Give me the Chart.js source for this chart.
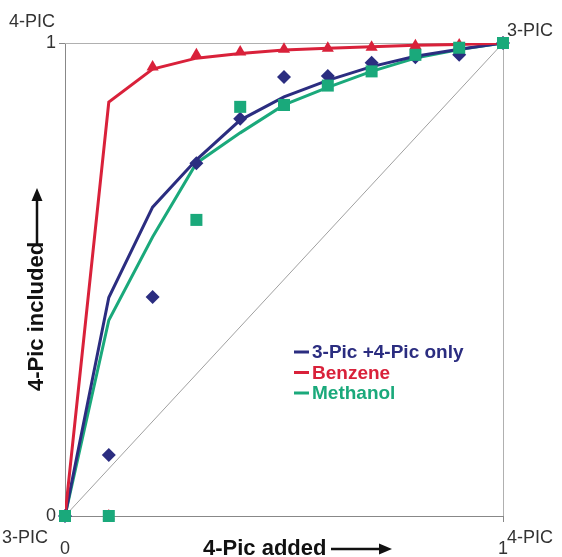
<!DOCTYPE html>
<html>
<head>
<meta charset="utf-8">
<script src="https://cdn.jsdelivr.net/npm/chart.js@4"></script>
<style>
  html, body { margin: 0; padding: 0; background: #fff; }
  #wrap { width: 562px; height: 557px; position: relative; }
</style>
</head>
<body>
<div id="wrap"><canvas id="picChart"></canvas></div>
<script>
// mole fraction of 4-Pic added (x) and included (y)
const xVals = [0, 0.1, 0.2, 0.3, 0.4, 0.5, 0.6, 0.7, 0.8, 0.9, 1];

// fitted curves
const onlyFit     = [0, 0.462, 0.653, 0.753, 0.837, 0.886, 0.921, 0.950, 0.972, 0.987, 1];
const benzeneFit  = [0, 0.875, 0.945, 0.968, 0.978, 0.985, 0.989, 0.992, 0.995, 0.997, 1];
const methanolFit = [0, 0.414, 0.590, 0.746, 0.810, 0.869, 0.906, 0.940, 0.968, 0.986, 1];

// measured points
const onlyObs     = [0, 0.129, 0.463, 0.746, 0.840, 0.928, 0.930, 0.958, 0.970, 0.975, 1];
const benzeneObs  = [0, 0, 0.949, 0.975, 0.981, 0.987, 0.989, 0.991, 0.994, 0.996, 1];
const methanolObs = [0, 0, null, 0.626, 0.865, 0.869, 0.910, 0.940, 0.975, 0.990, 1];

const yTicks = [0, 1];

const blue = '#2b2d80';
const red = '#d9213a';
const green = '#1aa97b';
const FONT = '"Liberation Sans", Arial, sans-serif';

const pts = arr => xVals.map((x, i) => ({ x: x, y: arr[i] }));

function arrow(ctx, x0, y0, x1, y1) {
  // straight arrow along x (rotated by caller when needed)
  ctx.beginPath();
  ctx.moveTo(x0, y0);
  ctx.lineTo(x1 - 10, y1);
  ctx.stroke();
  ctx.beginPath();
  ctx.moveTo(x1, y1);
  ctx.lineTo(x1 - 13, y1 - 5.5);
  ctx.lineTo(x1 - 13, y1 + 5.5);
  ctx.closePath();
  ctx.fill();
}

// frame, corner labels, axis titles with arrows, legend
const decor = {
  id: 'decor',
  beforeDatasetsDraw(chart) {
    const { ctx, chartArea: a } = chart;
    ctx.save();
    ctx.strokeStyle = '#b0b0b0';
    ctx.lineWidth = 1;
    ctx.beginPath();
    ctx.moveTo(a.left, a.top + 0.5);
    ctx.lineTo(a.right + 0.5, a.top + 0.5);
    ctx.lineTo(a.right + 0.5, a.bottom);
    ctx.stroke();
    ctx.restore();
  },
  afterDraw(chart) {
    const { ctx } = chart;
    ctx.save();
    ctx.fillStyle = '#333';
    ctx.font = '18px ' + FONT;
    ctx.textBaseline = 'middle';
    ctx.textAlign = 'left';
    ctx.fillText('4-PIC', 9, 22);
    ctx.fillText('3-PIC', 507, 31);
    ctx.fillText('3-PIC', 2, 538);
    ctx.fillText('4-PIC', 507, 538);

    // x title + arrow
    ctx.fillStyle = '#111';
    ctx.strokeStyle = '#111';
    ctx.font = 'bold 22px ' + FONT;
    ctx.fillText('4-Pic added', 203, 549);
    ctx.lineWidth = 2.5;
    arrow(ctx, 331, 549, 392, 549);

    // y title + arrow
    ctx.translate(37, 391);
    ctx.rotate(-Math.PI / 2);
    ctx.fillText('4-Pic included', 0, 0);
    arrow(ctx, 146, 0, 203, 0);
    ctx.setTransform(1, 0, 0, 1, 0, 0);

    // legend
    const items = [['3-Pic +4-Pic only', blue], ['Benzene', red], ['Methanol', green]];
    ctx.font = 'bold 19px ' + FONT;
    ctx.lineWidth = 3;
    items.forEach((it, i) => {
      const y = 352 + i * 20.5;
      ctx.strokeStyle = it[1];
      ctx.beginPath();
      ctx.moveTo(294, y);
      ctx.lineTo(309, y);
      ctx.stroke();
      ctx.fillStyle = it[1];
      ctx.fillText(it[0], 312, y + 1);
    });
    ctx.restore();
  }
};

const ctx = document.getElementById('picChart').getContext('2d');
const picChart = new Chart(ctx, {
  type: 'line',
  data: {
    datasets: [
      { label: 'diag', data: [{ x: 0, y: 0 }, { x: 1, y: 1 }], borderColor: '#a0a0a0', borderWidth: 1, pointRadius: 0, order: 9 },
      { label: 'Methanol fit', data: pts(methanolFit), borderColor: green, borderWidth: 3, pointRadius: 0, order: 6 },
      { label: '3-Pic +4-Pic only fit', data: pts(onlyFit), borderColor: blue, borderWidth: 3, pointRadius: 0, order: 5 },
      { label: 'Benzene fit', data: pts(benzeneFit), borderColor: red, borderWidth: 3, pointRadius: 0, order: 4 },
      { label: 'Benzene', data: pts(benzeneObs), showLine: false, pointStyle: 'triangle', pointRadius: 7, clip: false,
        backgroundColor: red, borderColor: red, borderWidth: 0, order: 3 },
      { label: '3-Pic +4-Pic only', data: pts(onlyObs), showLine: false, pointStyle: 'rectRot', pointRadius: 7, clip: false,
        backgroundColor: blue, borderColor: blue, borderWidth: 0, order: 2 },
      { label: 'Methanol', data: pts(methanolObs), showLine: false, pointStyle: 'rect', pointRadius: 8.5, clip: false,
        backgroundColor: green, borderColor: green, borderWidth: 0, order: 1 }
    ]
  },
  options: {
    responsive: true,
    maintainAspectRatio: false,
    animation: false,
    layout: { padding: { left: 0, top: 43, right: 59, bottom: 0 } },
    plugins: { legend: { display: false }, tooltip: { enabled: false } },
    elements: { line: { tension: 0 } },
    scales: {
      x: {
        type: 'linear', min: 0, max: 1,
        afterFit: s => { s.height = 41; },
        afterBuildTicks: s => { s.ticks = xVals.filter(v => v === 0 || v === 1).map(v => ({ value: v })); },
        grid: { drawOnChartArea: false, drawTicks: true, tickLength: 6, color: '#888' },
        border: { color: '#888', width: 1 },
        ticks: { color: '#333', font: { size: 18, family: FONT }, padding: 16, maxRotation: 0 }
      },
      y: {
        type: 'linear', min: 0, max: 1,
        afterFit: s => { s.width = 65; },
        afterBuildTicks: s => { s.ticks = yTicks.map(v => ({ value: v })); },
        grid: { drawOnChartArea: false, drawTicks: true, tickLength: 6, color: '#888' },
        border: { color: '#888', width: 1 },
        ticks: { color: '#333', font: { size: 18, family: FONT }, padding: 3 }
      }
    }
  },
  plugins: [decor]
});
</script>
</body>
</html>
